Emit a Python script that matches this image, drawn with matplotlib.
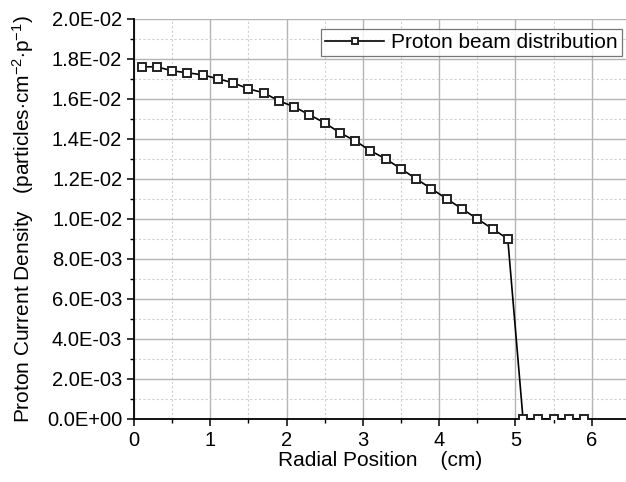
import matplotlib

matplotlib.use("Agg")
import matplotlib.pyplot as plt
from matplotlib.ticker import MultipleLocator, FuncFormatter

# Radial positions (cm) and proton current density (particles·cm^-2·p^-1)
radius = [0.1, 0.3, 0.5, 0.7, 0.9, 1.1, 1.3, 1.5, 1.7, 1.9, 2.1, 2.3, 2.5,
          2.7, 2.9, 3.1, 3.3, 3.5, 3.7, 3.9, 4.1, 4.3, 4.5, 4.7, 4.9,
          5.1, 5.3, 5.5, 5.7, 5.9]
density = [0.0176, 0.0176, 0.0174, 0.0173, 0.0172, 0.0170, 0.0168, 0.0165,
           0.0163, 0.0159, 0.0156, 0.0152, 0.0148, 0.0143, 0.0139, 0.0134,
           0.0130, 0.0125, 0.0120, 0.0115, 0.0110, 0.0105, 0.0100, 0.0095,
           0.0090, 0.0, 0.0, 0.0, 0.0, 0.0]
series_label = "Proton beam distribution"

plt.rcParams["font.family"] = ["Liberation Sans", "DejaVu Sans"]
plt.rcParams["mathtext.fontset"] = "custom"
plt.rcParams["mathtext.rm"] = "Liberation Sans"
plt.rcParams["mathtext.it"] = "Liberation Sans"

fig = plt.figure(figsize=(6.26, 4.82), dpi=100)
ax = fig.add_axes([0.214, 0.131, 0.786, 0.830])

ax.plot(radius, density, color="black", lw=1.2, marker="s", ms=5.3,
        mfc="white", mec="#222222", mew=1.4, label=series_label, zorder=3)

ax.set_xlim(0, 6.45)
ax.set_ylim(0, 0.02)
ax.xaxis.set_major_locator(MultipleLocator(1))
ax.xaxis.set_minor_locator(MultipleLocator(0.5))
ax.yaxis.set_major_locator(MultipleLocator(0.002))
ax.yaxis.set_minor_locator(MultipleLocator(0.001))


def sci(v, _):
    if abs(v) < 1e-12:
        return "0.0E+00"
    return f"{v:.1E}"


ax.yaxis.set_major_formatter(FuncFormatter(sci))

ax.grid(which="major", color="#b4b4b4", lw=1.0, zorder=0)
ax.grid(which="minor", color="#cfcfcf", lw=0.8, ls=(0, (2, 2)), zorder=0)
ax.set_axisbelow(True)

for side in ("top", "right"):
    ax.spines[side].set_visible(False)
for side in ("left", "bottom"):
    ax.spines[side].set_linewidth(1.3)
    ax.spines[side].set_color("black")

ax.tick_params(which="major", direction="out", length=5, width=1.1,
               labelsize=14.5, colors="black")
ax.tick_params(which="minor", direction="out", length=3, width=1.0)

ax.set_xlabel("Radial Position    (cm)", fontsize=15, labelpad=1)
ax.set_ylabel(r"Proton Current Density   (particles$\cdot$cm$^{-2}$$\cdot$p$^{-1}$)",
              fontsize=15, labelpad=8)

leg = ax.legend(loc="upper right", bbox_to_anchor=(1.0, 0.985), fontsize=15,
                frameon=True, fancybox=False, edgecolor="#555555",
                handlelength=2.8, borderpad=0.2, handletextpad=0.35,
                borderaxespad=0.2, markerscale=0.7)
leg.get_frame().set_linewidth(0.9)

fig.savefig("out.png", dpi=100)
